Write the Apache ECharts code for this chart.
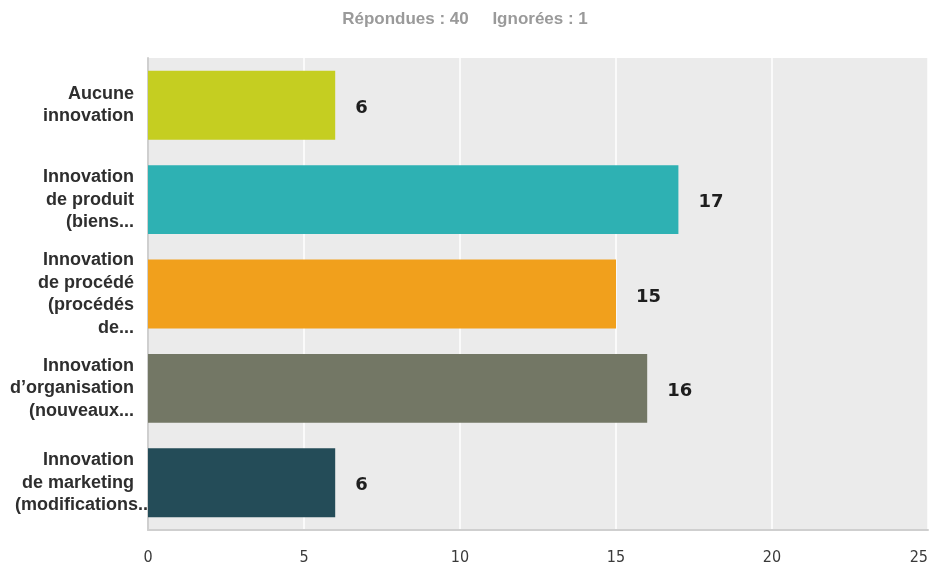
<!DOCTYPE html>
<html>
<head>
<meta charset="utf-8">
<script src="https://cdn.jsdelivr.net/npm/echarts@6/dist/echarts.min.js"></script>
<style>html,body{margin:0;padding:0;background:#fff;}#c{width:930px;height:570px;}</style>
</head>
<body>
<div id="c"></div>
<script>
const titleText = 'Répondues : 40     Ignorées : 1';
const categories = [
  'Aucune\ninnovation',
  'Innovation\nde produit\n(biens...',
  'Innovation\nde procédé\n(procédés\nde...',
  'Innovation\nd’organisation\n(nouveaux...',
  'Innovation\nde marketing\n(modifications...'
];
const values = [6, 17, 15, 16, 6];
const barColors = ['#c5ce21', '#2eb1b3', '#f1a01c', '#737765', '#244c58'];
const xTicks = [0, 5, 10, 15, 20, 25];

const lastIdx = categories.length - 1;
const catData = categories.map((c, i) => i === lastIdx
  ? {value: c, textStyle: {padding: [0, -19, 0, 0]}}
  : c);

const labelFont = {fontFamily: 'Liberation Sans', fontWeight: 'bold', fontSize: 18, lineHeight: 22.5, color: '#2e2e2e'};

const chart = echarts.init(document.getElementById('c'), null, {renderer: 'canvas'});
chart.setOption({
  animation: false,
  title: {
    text: titleText,
    left: 460, top: 6, textAlign: 'center',
    textStyle: {fontFamily: 'Liberation Sans', fontWeight: 'bold', fontSize: 17, color: '#9a9a9a'}
  },
  grid: {left: 148, right: 2, top: 58, bottom: 40, show: true, backgroundColor: '#ebebeb', borderWidth: 0,
         containLabel: false, outerBoundsMode: 'none'},
  xAxis: {
    type: 'value', min: xTicks[0], max: xTicks[xTicks.length - 1], interval: 5,
    axisLine: {show: true, lineStyle: {color: '#cfcfcf', width: 2}},
    axisTick: {show: false},
    splitLine: {show: true, lineStyle: {color: '#ffffff', width: 1.5}},
    axisLabel: {margin: 20, fontFamily: 'DejaVu Sans Condensed, Liberation Sans', fontSize: 16, color: '#3a3a3a',
                alignMaxLabel: 'right'}
  },
  yAxis: {
    type: 'category', data: catData, inverse: true,
    axisLine: {show: true, lineStyle: {color: '#cfcfcf', width: 2}},
    axisTick: {show: false},
    axisLabel: Object.assign({
      interval: 0, margin: 14, align: 'right',
      formatter: function (val, idx) {
        if (idx !== lastIdx) return val;
        const lines = val.split('\n');
        return lines.map((l, i) => i < lines.length - 1 ? '{a|' + l + '}{s| }' : '{a|' + l + '}').join('\n');
      },
      rich: {
        a: Object.assign({}, labelFont),
        s: Object.assign({}, labelFont, {width: 19})
      }
    }, labelFont)
  },
  series: [{
    type: 'bar',
    data: values.map((v, i) => ({value: v, itemStyle: {color: barColors[i]}})),
    barCategoryGap: '27%',
    label: {show: true, position: 'right', distance: 20, offset: [0, 3], fontFamily: 'DejaVu Sans', fontWeight: 'bold', fontSize: 18, color: '#1e1e1e'}
  }]
});
</script>
</body>
</html>
